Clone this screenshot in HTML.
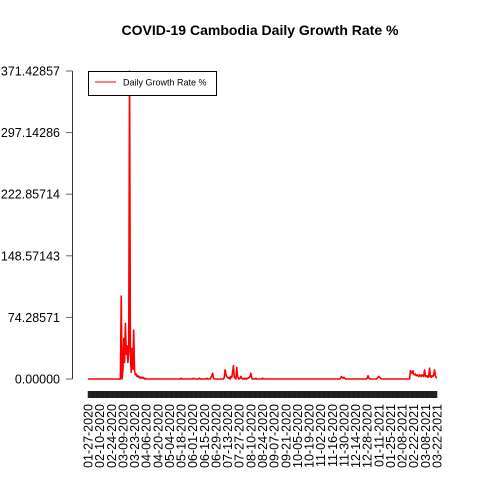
<!DOCTYPE html>
<html><head><meta charset="utf-8"><style>
html,body{margin:0;padding:0;background:#fff}
svg{display:block;font-family:"Liberation Sans",sans-serif}
</style></head><body>
<svg id="chart" width="480" height="480" xmlns="http://www.w3.org/2000/svg">
<rect width="480" height="480" fill="#fff"/>
<text x="260" y="35" text-anchor="middle" font-size="14" font-weight="bold">COVID-19 Cambodia Daily Growth Rate %</text>
<g id="yaxis"></g>
<g id="xaxis"></g>
<g id="series"></g>
<g>
<rect x="88.5" y="71.5" width="128" height="24" fill="#fff" stroke="#000" stroke-width="1"/>
<line x1="95" y1="82" x2="116" y2="82" stroke="#f00" stroke-width="1"/>
<text x="123" y="85.5" font-size="9">Daily Growth Rate %</text>
</g>
</svg>
<script>
const startDate = "2020-01-27";
const yTicks = [0, 74.28571, 148.57143, 222.85714, 297.14286, 371.42857];
const yTickLabels = ["0.00000","74.28571","148.57143","222.85714","297.14286","371.42857"];
const growthValues = [
0,0,0,0,0,0,0,0,0,0,0,0,0,0,0,0,0,0,0,0,
0,0,0,0,0,0,0,0,0,0,0,0,0,0,0,0,0,0,0,0,
100,0,10,49,20,67,30,40,20,35,371.43,30,8,37,12,59,10,5,6,3,
4,2,3,1,2,1,2,1,0,1,0,0,0,0,0,0,0,0,0,0,
0,0,0,0,0,0,0,0,0,0,0,0,0,0,0,0,0,0,0,0,
0,0,0,0,0,0,0,0,0,0,0,0,1,0,0,0,0,0,0,0,
0,0,0,0,0,0,0,1,0,0,0,0,0,0,1,0,0,0,0,0,
0,0,0,1,0,0,0,0,2,4,7,1,0,0,0,0,0,0,0,0,
0,0,0,0,2,11,5,3,2,1,2,0,3,2,8,16,3,1,0,14,
3,1,0,1,3,1,0,0,1,0,1,0,1,1,2,3,7,1,0,0,
0,0,1,0,0,0,0,0,0,0,1,0,0,0,0,0,0,0,0,0,
0,0,0,0,0,0,0,0,0,0,0,0,0,0,0,0,0,0,0,0,
0,0,0,0,0,0,0,0,0,0,0,0,0,0,0,0,0,0,0,0,
0,0,0,0,0,0,0,0,0,0,0,0,0,0,0,0,0,0,0,0,
0,0,0,0,0,0,0,0,0,0,0,0,0,0,0,0,0,0,0,0,
0,0,0,0,1,3,2,1,2,1,0,0,0,0,0,0,0,0,0,0,
0,0,0,0,0,0,0,0,0,0,0,0,0,0,0,0,1,4,1,0,
0,0,0,0,0,0,0,0,1,2,3,2,1,0,0,0,0,0,0,0,
0,0,0,0,0,0,0,0,0,0,0,0,0,0,0,0,0,0,0,0,
0,0,0,0,0,0,0,0,10,8,7,10,6,5,6,4,5,4,3,5,
4,3,5,4,3,11,4,3,4,2,3,13,3,2,4,3,5,11,4,2,1
];
const labelEvery = 14;

const NS = "http://www.w3.org/2000/svg";
const X0 = 88, X1 = 437, Y0 = 379, Y1 = 71;
const yMax = 371.42857;
const n = growthValues.length;
function xScale(i){ return X0 + i * (X1 - X0) / (n - 1); }
function yScale(v){ return Y0 - v * (Y0 - Y1) / yMax; }
function mk(tag, attrs, parent){
  const e = document.createElementNS(NS, tag);
  for (const k in attrs) e.setAttribute(k, attrs[k]);
  parent.appendChild(e);
  return e;
}
function fmtDate(i){
  const d = new Date(startDate + "T00:00:00Z");
  d.setUTCDate(d.getUTCDate() + i);
  const m = String(d.getUTCMonth()+1).padStart(2,"0");
  const dd = String(d.getUTCDate()).padStart(2,"0");
  return m + "-" + dd + "-" + d.getUTCFullYear();
}

const yg = document.getElementById("yaxis");
const yl = mk("line", {x1:72.5, y1:yScale(yMax), x2:72.5, y2:Y0, stroke:"#333"}, yg);


yTicks.forEach((t, i) => {
  const y = yScale(t);
  const tk = mk("line", {x1:66, y1:y, x2:72.5, y2:y, stroke:"#666"}, yg);
  
  
  const tx = mk("text", {x:60, y:y+4.5, "text-anchor":"end", "font-size":12.5}, yg);
  
  
  tx.textContent = yTickLabels[i];
});

const xg = document.getElementById("xaxis");
const band = mk("rect", {x:X0, y:391, width:X1-X0, height:7, fill:"#3a3a3a"}, xg);


for (let i = 0; i < n; i++) {
  const x = xScale(i);
  const tk = mk("line", {x1:x, y1:391, x2:x, y2:398, stroke:"#111", "stroke-width":0.5}, xg);
  
  
  if (i % labelEvery === 0) {
    const tx = mk("text", {x:0, y:0, "text-anchor":"end", "font-size":12.5, transform:"translate(" + (x+4.5) + ",404) rotate(-90)"}, xg);
    
    
    tx.textContent = fmtDate(i);
  }
}

const sg = document.getElementById("series");
const pts = growthValues.map((v, i) => xScale(i).toFixed(2) + "," + yScale(v).toFixed(2)).join(" ");
const pl = mk("polyline", {points:pts, fill:"none", stroke:"#f00", "stroke-width":1.6, "stroke-linejoin":"round"}, sg);


</script>
</body></html>
